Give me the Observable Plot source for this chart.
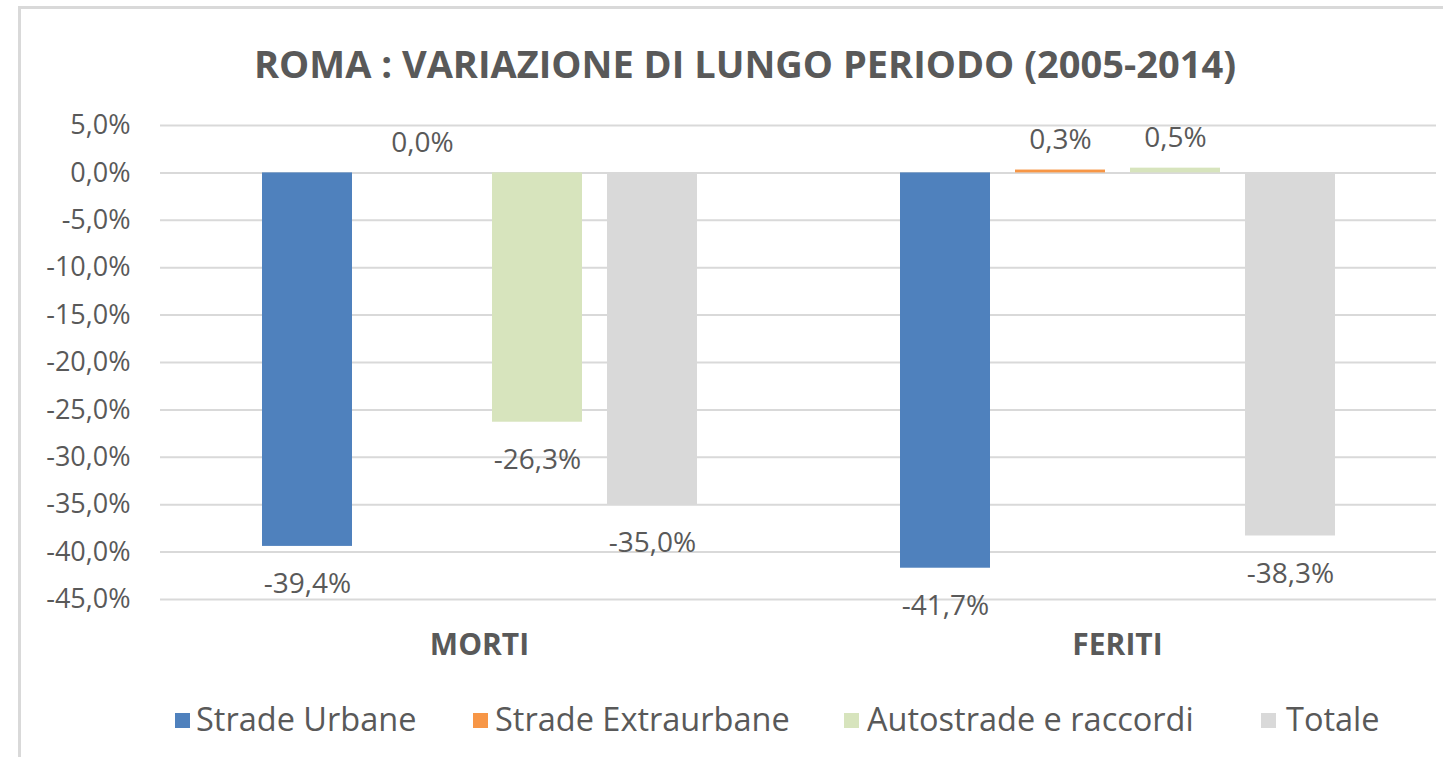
<!DOCTYPE html>
<html>
<head>
<meta charset="utf-8">
<script src="https://cdn.jsdelivr.net/npm/d3@7"></script>
<script src="https://cdn.jsdelivr.net/npm/@observablehq/plot@0.6"></script>
<style>
  html, body { margin: 0; padding: 0; background: #fff; }
  body { width: 1443px; height: 757px; position: relative; overflow: hidden; font-family: "Open Sans", sans-serif; color: #595959; }
  #frame { position: absolute; left: 18px; top: 6px; right: -10px; bottom: -10px; border-left: 3px solid #d9d9d9; border-top: 3px solid #d9d9d9; }
  #title { position: absolute; left: 0; width: 1490px; top: 37px; text-align: center; font-size: 38px; font-weight: 700; white-space: nowrap; }
  #chart { position: absolute; left: 0; top: 100px; }
  .lg-sw { position: absolute; width: 15px; height: 15px; top: 713px; }
  .lg-tx { position: absolute; top: 696px; font-size: 32.5px; white-space: nowrap; }
</style>
</head>
<body>
<div id="frame"></div>
<div id="title">ROMA : VARIAZIONE DI LUNGO PERIODO (2005-2014)</div>
<div id="chart"></div>
<div id="legend"></div>
<script>
const groups = ["MORTI", "FERITI"];
const series = ["Strade Urbane", "Strade Extraurbane", "Autostrade e raccordi", "Totale"];
const colors = ["#4f81bd", "#f79646", "#d7e4bd", "#d9d9d9"];
const mortiValues = [-39.4, 0.0, -26.3, -35.0];
const feritiValues = [-41.7, 0.3, 0.5, -38.3];
const yTicks = [5, 0, -5, -10, -15, -20, -25, -30, -35, -40, -45];

const data = [];
series.forEach((s, i) => data.push({group: groups[0], series: s, value: mortiValues[i]}));
series.forEach((s, i) => data.push({group: groups[1], series: s, value: feritiValues[i]}));

const fmt = v => v.toFixed(1).replace(".", ",") + "%";

const chart = Plot.plot({
  width: 1443,
  height: 580,
  marginTop: 25,
  marginBottom: 81,
  marginLeft: 160,
  marginRight: 7,
  style: {fontFamily: "'Open Sans', sans-serif", color: "#595959", background: "transparent"},
  fx: {domain: groups, padding: 0, axis: null},
  x: {domain: series, paddingInner: 0.22, paddingOuter: 0.8747, axis: null},
  y: {domain: [-45, 5], axis: null},
  color: {domain: series, range: colors},
  marks: [
    Plot.gridY(yTicks, {stroke: "#d9d9d9", strokeOpacity: 1, strokeWidth: 2}),
    Plot.axisY({ticks: yTicks, tickSize: 0, tickPadding: 30, tickFormat: fmt, fontSize: 27, fill: "#595959", label: null}),
    Plot.barY(data, {fx: "group", x: "series", y: "value", fill: "series"}),
    Plot.text(data.filter(d => d.value >= 0), {fx: "group", x: "series", y: "value", text: d => fmt(d.value), lineAnchor: "bottom", dy: -21, fontSize: 28, fill: "#595959"}),
    Plot.text(data.filter(d => d.value < 0), {fx: "group", x: "series", y: "value", text: d => fmt(d.value), lineAnchor: "top", dy: 27, fontSize: 28, fill: "#595959"}),
    Plot.axisFx({anchor: "bottom", tickSize: 0, tickPadding: 34, fontSize: 30, fontWeight: "bold", fill: "#595959", label: null})
  ]
});
document.getElementById("chart").appendChild(chart);

// legend
const lgSw = [175, 473, 844, 1261];
const lgTx = [196, 495, 867, 1286];
const legend = document.getElementById("legend");
series.forEach((s, i) => {
  const sw = document.createElement("div");
  sw.className = "lg-sw";
  sw.style.left = lgSw[i] + "px";
  sw.style.background = colors[i];
  legend.appendChild(sw);
  const tx = document.createElement("div");
  tx.className = "lg-tx";
  tx.style.left = lgTx[i] + "px";
  tx.textContent = s;
  legend.appendChild(tx);
});
</script>
</body>
</html>
